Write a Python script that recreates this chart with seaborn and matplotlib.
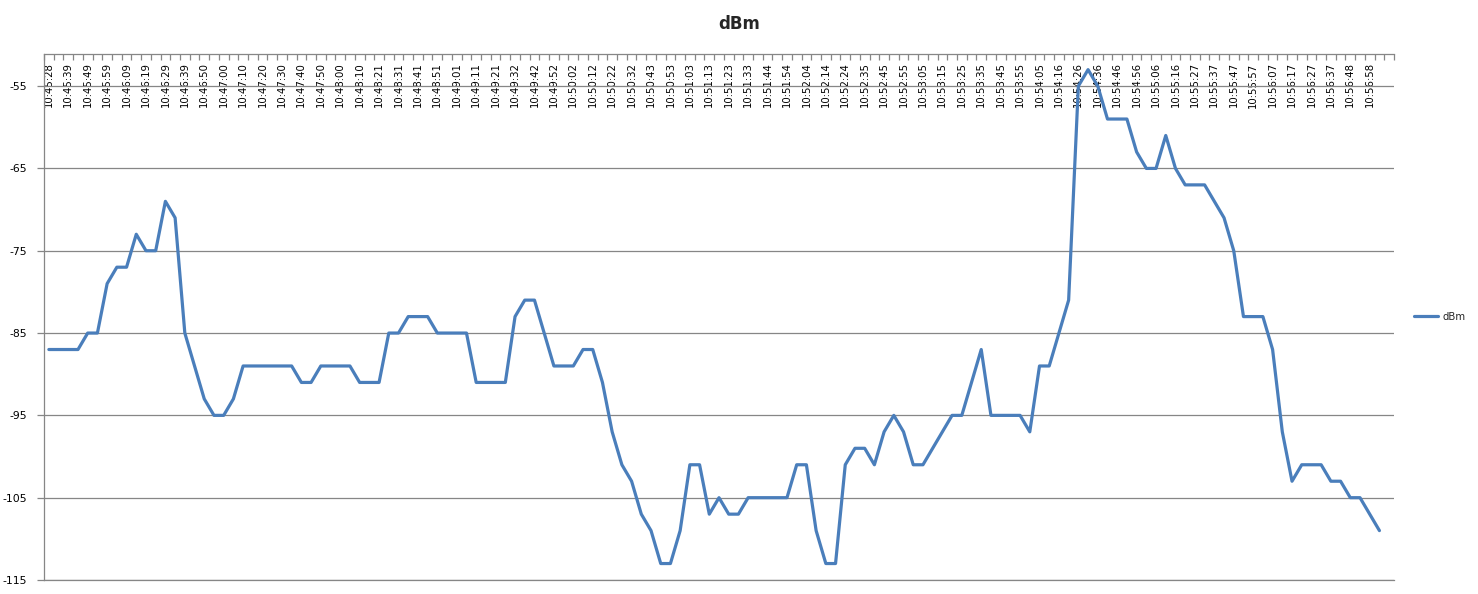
import numpy as np
import pandas as pd
import seaborn as sns
import matplotlib.pyplot as plt
from matplotlib.ticker import FixedLocator

# signal readings (dBm), one every ~5 s
dbm = [-87, -87, -87, -87, -85, -85, -79, -77, -77, -73,
       -75, -75, -69, -71, -85, -89, -93, -95, -95, -93,
       -89, -89, -89, -89, -89, -89, -91, -91, -89, -89,
       -89, -89, -91, -91, -91, -85, -85, -83, -83, -83,
       -85, -85, -85, -85, -91, -91, -91, -91, -83, -81,
       -81, -85, -89, -89, -89, -87, -87, -91, -97, -101,
       -103, -107, -109, -113, -113, -109, -101, -101, -107, -105,
       -107, -107, -105, -105, -105, -105, -105, -101, -101, -109,
       -113, -113, -101, -99, -99, -101, -97, -95, -97, -101,
       -101, -99, -97, -95, -95, -91, -87, -95, -95, -95,
       -95, -97, -89, -89, -85, -81, -55, -53, -55, -59,
       -59, -59, -63, -65, -65, -61, -65, -67, -67, -67,
       -69, -71, -75, -83, -83, -83, -87, -97, -103, -101,
       -101, -101, -103, -103, -105, -105, -107, -109]

# every second time stamp is shown on the axis
time_labels = ['10:45:28', '10:45:39', '10:45:49', '10:45:59', '10:46:09', '10:46:19',
               '10:46:29', '10:46:39', '10:46:50', '10:47:00', '10:47:10', '10:47:20',
               '10:47:30', '10:47:40', '10:47:50', '10:48:00', '10:48:10', '10:48:21',
               '10:48:31', '10:48:41', '10:48:51', '10:49:01', '10:49:11', '10:49:21',
               '10:49:32', '10:49:42', '10:49:52', '10:50:02', '10:50:12', '10:50:22',
               '10:50:32', '10:50:43', '10:50:53', '10:51:03', '10:51:13', '10:51:23',
               '10:51:33', '10:51:44', '10:51:54', '10:52:04', '10:52:14', '10:52:24',
               '10:52:35', '10:52:45', '10:52:55', '10:53:05', '10:53:15', '10:53:25',
               '10:53:35', '10:53:45', '10:53:55', '10:54:05', '10:54:16', '10:54:26',
               '10:54:36', '10:54:46', '10:54:56', '10:55:06', '10:55:16', '10:55:27',
               '10:55:37', '10:55:47', '10:55:57', '10:56:07', '10:56:17', '10:56:27',
               '10:56:37', '10:56:48', '10:56:58']
n_categories = 139

df = pd.DataFrame({'idx': np.arange(len(dbm)), 'dBm': dbm})

sns.set_style('white')
plt.rcParams['font.family'] = ['DejaVu Sans']
plt.rcParams['axes.unicode_minus'] = False
grey = '#868686'

fig = plt.figure(figsize=(14.78, 5.94), dpi=100)
ax = fig.add_axes([44 / 1478, 14 / 594, 1350 / 1478, 526 / 594])

sns.lineplot(data=df, x='idx', y='dBm', color='#4a7ebb', linewidth=2.3, label='dBm', ax=ax)

ax.set_xlim(-0.5, n_categories - 0.5)
ax.set_ylim(-115, -51.1)
ax.set_yticks(np.arange(-115, -54, 10))
ax.yaxis.grid(True, color=grey, linewidth=0.9)
ax.set_axisbelow(True)
ax.set_xlabel('')
ax.set_ylabel('')

# category axis sits on top, labels drawn inside the plot
ax.xaxis.tick_top()
ax.set_xticks(np.arange(0, 2 * len(time_labels), 2))
ax.set_xticklabels(time_labels)
ax.xaxis.set_minor_locator(FixedLocator(np.arange(-0.5, n_categories, 1)))
ax.tick_params(axis='x', which='major', length=0, pad=-6, labelsize=7.3,
               labelrotation=90, labelcolor='black')
ax.tick_params(axis='x', which='minor', top=True, bottom=False, direction='in',
               length=4, width=0.9, color=grey)
for t in ax.get_xticklabels():
    t.set_va('top')
ax.tick_params(axis='y', direction='out', length=5, width=0.9, color=grey,
               labelsize=7.8, pad=7, left=True, labelcolor='black')

ax.spines['right'].set_visible(False)
for s in ['left', 'top', 'bottom']:
    ax.spines[s].set_color(grey)
    ax.spines[s].set_linewidth(0.9)

ax.legend(loc='center left', bbox_to_anchor=(1 + 20 / 1350, 0.5), frameon=False,
          fontsize=7.3, handlelength=2.4, handletextpad=0.4, borderpad=0, borderaxespad=0)

fig.text(739 / 1478, 1 - 24 / 594, 'dBm', ha='center', va='center',
         fontsize=12, fontweight='bold')

fig.savefig('out.png', dpi=100)
